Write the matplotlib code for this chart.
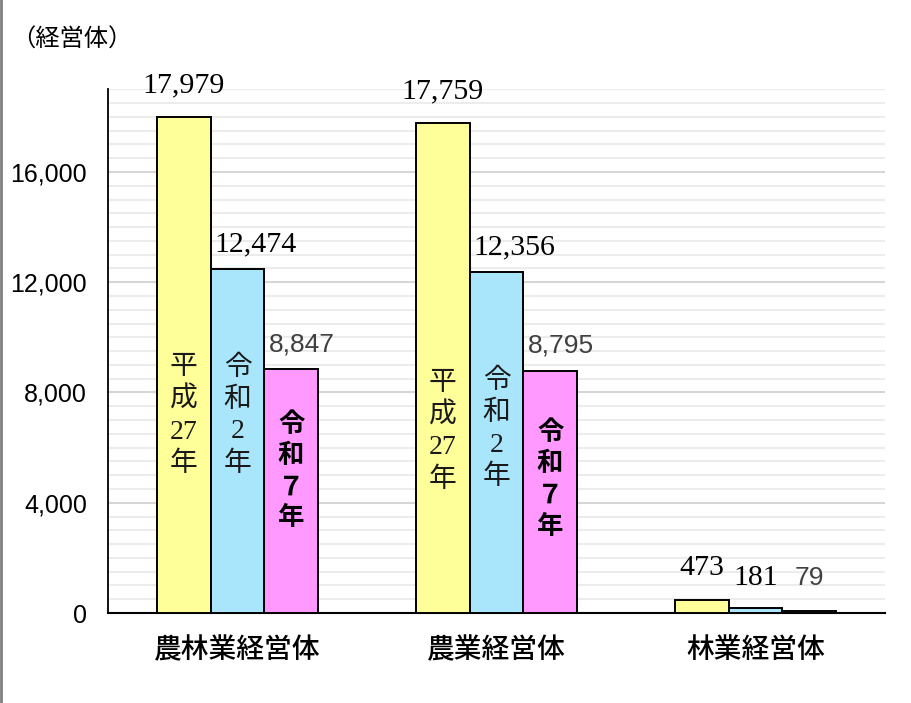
import numpy as np
import matplotlib.pyplot as plt
from matplotlib.ticker import MultipleLocator, FuncFormatter
from matplotlib.lines import Line2D

# データ
categories = ['農林業経営体', '農業経営体', '林業経営体']
series_names = ['平成27年', '令和2年', '令和7年']
h27 = [17979, 17759, 473]
r2 = [12474, 12356, 181]
r7 = [8847, 8795, 79]
inner_texts = ['平\n成\n27\n年', '令\n和\n2\n年', '令\n和\n７\n年']

colors = ['#FFFF99', '#A9E5FB', '#FF99FF']
serif = ['Liberation Serif', 'Noto Sans CJK JP']
sans = ['Liberation Sans', 'Noto Sans CJK JP']

fig = plt.figure(figsize=(9.12, 7.03), dpi=100)
ax = fig.add_axes([0.1184, 0.128, 0.852, 0.745])

x = np.arange(len(categories))
w = 0.207
all_series = [h27, r2, r7]
for i, vals in enumerate(all_series):
    ax.bar(x + (i - 1) * w, vals, width=w, color=colors[i],
           edgecolor='black', linewidth=1.4, zorder=3)

ax.set_xlim(-0.5, 2.5)
ax.set_ylim(0, 19000)

# 目盛と補助線
ax.yaxis.set_major_locator(MultipleLocator(4000))
ax.yaxis.set_minor_locator(MultipleLocator(500))
ax.yaxis.set_major_formatter(FuncFormatter(lambda v, p: f'{int(v):,}'))
ax.grid(axis='y', which='minor', color='#ececec', linewidth=1.5, zorder=0)
ax.grid(axis='y', which='major', color='#d6d6d6', linewidth=1.5, zorder=0)
ax.tick_params(axis='y', which='both', length=0, pad=15)
ax.tick_params(axis='x', length=0, pad=16)
for lab in ax.get_yticklabels():
    lab.set_family(sans)
    lab.set_fontsize(18)

ax.set_xticks(x)
ax.set_xticklabels(categories, family=['Noto Sans CJK JP'], fontsize=20,
                   fontweight='medium')

for s in ['top', 'right']:
    ax.spines[s].set_visible(False)
ax.spines['left'].set_linewidth(1.3)
ax.spines['bottom'].set_linewidth(1.5)

# 数値ラベル
offsets = [(0.0, 1150), (0.07, 900), (0.04, 900)]
small_off = [(0, 1150), (0, 1100), (0, 1200)]
for i, vals in enumerate(all_series):
    for j, v in enumerate(vals):
        dx, dy = offsets[i] if v > 1000 else small_off[i]
        xx = x[j] + (i - 1) * w + dx
        if i < 2:
            ax.text(xx, v + dy, f'{v:,}', ha='center', va='center',
                    family=serif, fontsize=21.5, color='black')
        else:
            ax.text(xx, v + dy, f'{v:,}', ha='center', va='center',
                    family=sans, fontsize=19, color='#404040')

# 棒の中の文字
inner_y = [[7150, 6580], [7150, 6650], [5150, 4850]]
for i in range(3):
    for j in range(2):
        xx = x[j] + (i - 1) * w
        if i < 2:
            ax.text(xx, inner_y[i][j], inner_texts[i], ha='center', va='center',
                    family=serif, fontsize=20, linespacing=1.35, color='#1a1a1a')
        else:
            ax.text(xx, inner_y[i][j], inner_texts[i], ha='center', va='center',
                    family=['Noto Sans CJK JP'], fontsize=19, fontweight='bold',
                    linespacing=1.2, color='black')

fig.text(0.012, 0.944, '（経営体）', family=['Noto Sans CJK JP'], fontsize=17.5,
         ha='left', va='center')

# 左端の枠線
fig.add_artist(Line2D([0.001, 0.001], [0, 1], transform=fig.transFigure,
                      color='#808080', linewidth=2))

fig.savefig('out.png', dpi=100)
